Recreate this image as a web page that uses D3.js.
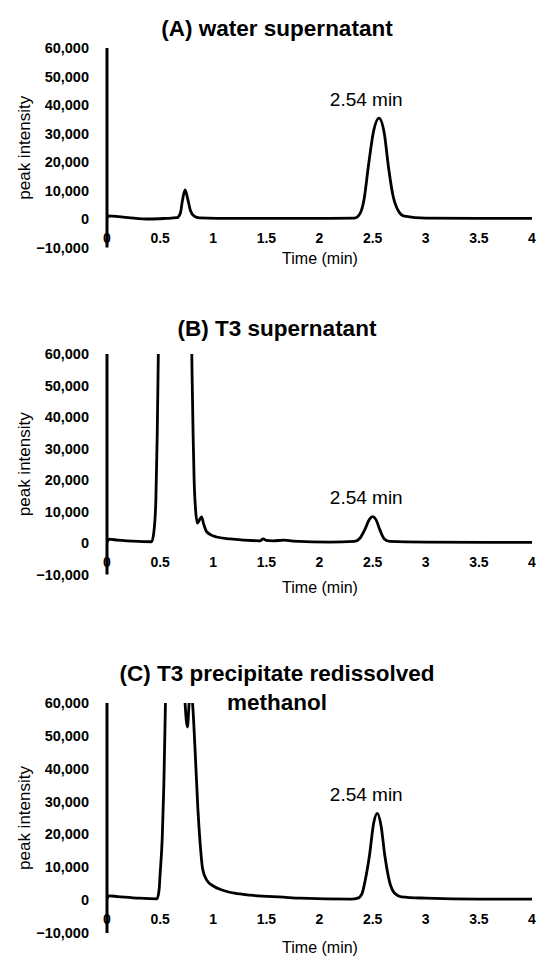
<!DOCTYPE html>
<html>
<head>
<meta charset="utf-8">
<script src="https://cdn.jsdelivr.net/npm/d3@7"></script>
<style>
  body { margin: 0; background: #fff; }
  text { font-family: "Liberation Sans", Arial, sans-serif; fill: #000; }
</style>
</head>
<body>
<svg id="chart"></svg>
<script>
const width = 550;
const height = 967;

// data: [time (min), peak intensity]
const panelTitles = [
  ["(A) water supernatant"],
  ["(B) T3 supernatant"],
  ["(C) T3 precipitate redissolved", "methanol"],
];
const peakLabel = "2.54 min";
const xTicks = [0, 0.5, 1, 1.5, 2, 2.5, 3, 3.5, 4];
const yTicks = [-10000, 0, 10000, 20000, 30000, 40000, 50000, 60000];

const waterSupernatant = [
  [0, 300], [0.01, 1100], [0.05, 1000], [0.2, 500], [0.4, 0], [0.55, 200],
  [0.66, 450], [0.69, 2000], [0.71, 6500], [0.735, 10200], [0.76, 7000],
  [0.785, 3000], [0.82, 1000], [0.87, 400], [1.2, 200], [2.0, 200], [2.33, 300],
  [2.38, 1800], [2.42, 7000], [2.46, 18500], [2.51, 31000], [2.56, 35400],
  [2.61, 30000], [2.65, 18000], [2.69, 8500], [2.74, 3000], [2.8, 1000],
  [3.0, 300], [3.5, 200], [4, 200],
];

const t3Supernatant = [
  [0, 300], [0.02, 1200], [0.1, 900], [0.3, 500], [0.42, 400], [0.44, 3200],
  [0.46, 13600], [0.473, 35000], [0.483, 60000], [0.5, 95000], [0.6, 150000],
  [0.72, 150000], [0.79, 80000], [0.8, 55000], [0.81, 35000], [0.82, 20000],
  [0.835, 10000], [0.85, 6300], [0.865, 7000], [0.89, 8300], [0.91, 6000],
  [0.94, 3500], [1.03, 1900], [1.16, 1300], [1.44, 700], [1.47, 1300],
  [1.5, 800], [1.56, 700], [1.67, 900], [1.75, 600], [2.1, 300], [2.33, 500],
  [2.38, 1500], [2.43, 4500], [2.47, 7500], [2.5, 8350], [2.53, 7500],
  [2.57, 4000], [2.61, 1300], [2.66, 500], [3.0, 300], [4, 200],
];

const t3Precipitate = [
  [0, 500], [0.02, 1300], [0.1, 1100], [0.3, 600], [0.47, 400], [0.49, 3000],
  [0.5, 8000], [0.52, 19000], [0.535, 35000], [0.55, 60000], [0.58, 110000],
  [0.65, 140000], [0.7, 90000], [0.733, 61000], [0.757, 52700], [0.775, 61000],
  [0.79, 64000], [0.805, 60000], [0.83, 45000], [0.855, 28000], [0.875, 18000],
  [0.9, 9500], [0.94, 6000], [1.0, 4300], [1.09, 3000], [1.2, 2100],
  [1.35, 1500], [1.66, 900], [1.82, 600], [2.3, 300], [2.36, 600], [2.4, 2000],
  [2.43, 6000], [2.47, 13500], [2.51, 23500], [2.544, 26400], [2.58, 22500],
  [2.615, 13500], [2.66, 5500], [2.71, 2000], [2.77, 1000], [3.0, 600],
  [3.5, 300], [4, 300],
];

const seriesList = [waterSupernatant, t3Supernatant, t3Precipitate];

// panel placement
const panels = [
  {yTop: 48, yBottom: 247.5, titleY: 28, xTitleY: 258},
  {yTop: 354, yBottom: 574.5, titleY: 328, xTitleY: 587},
  {yTop: 703, yBottom: 933, titleY: 673, xTitleY: 947},
];

const left = 107;
const right = 532;

const svg = d3.select("#chart").attr("width", width).attr("height", height);

const x = d3.scaleLinear().domain([0, 4]).range([left, right]);

panels.forEach((p, i) => {
  const g = svg.append("g");
  const y = d3.scaleLinear().domain([-10000, 60000]).range([p.yBottom, p.yTop]);
  const data = seriesList[i];

  // title
  panelTitles[i].forEach((t, k) => {
    g.append("text")
      .attr("x", 277)
      .attr("y", p.titleY + k * 29)
      .attr("text-anchor", "middle")
      .attr("dominant-baseline", "central")
      .attr("font-size", "22.5px")
      .attr("font-weight", "bold")
      .text(t);
  });

  // y tick labels
  g.selectAll(".ytick")
    .data(yTicks)
    .enter()
    .append("text")
    .attr("x", 89)
    .attr("y", (d) => y(d))
    .attr("text-anchor", "end")
    .attr("dominant-baseline", "central")
    .attr("font-size", "14.5px")
    .attr("font-weight", "bold")
    .text((d) => d3.format(",")(d).replace("-", "\u2212"));

  g.append("text")
    .attr("transform", `translate(24,${(p.yTop + p.yBottom) / 2}) rotate(-90)`)
    .attr("text-anchor", "middle")
    .attr("dominant-baseline", "central")
    .attr("font-size", "17px")
    .text("peak intensity");

  // clip
  g.append("clipPath")
    .attr("id", "clip" + i)
    .append("rect")
    .attr("x", left)
    .attr("y", p.yTop)
    .attr("width", right - left + 3)
    .attr("height", p.yBottom - p.yTop);

  const line = d3
    .line()
    .x((d) => x(d[0]))
    .y((d) => y(d[1]))
    .curve(d3.curveMonotoneX);

  g.append("path")
    .datum(data)
    .attr("clip-path", `url(#clip${i})`)
    .attr("fill", "none")
    .attr("stroke", "#000")
    .attr("stroke-width", 2.8)
    .attr("stroke-linejoin", "round")
    .attr("d", line);

  // y axis line
  g.append("line")
    .attr("x1", x(0))
    .attr("x2", x(0))
    .attr("y1", y(60000))
    .attr("y2", y(-10000))
    .attr("stroke", "#000")
    .attr("stroke-width", 3);

  // x tick labels
  g.selectAll(".xtick")
    .data(xTicks)
    .enter()
    .append("text")
    .attr("x", (d) => x(d))
    .attr("y", y(0) + 19)
    .attr("text-anchor", "middle")
    .attr("dominant-baseline", "central")
    .attr("font-size", "14px")
    .attr("font-weight", "bold")
    .text((d) => d);

  g.append("text")
    .attr("x", 320)
    .attr("y", p.xTitleY)
    .attr("text-anchor", "middle")
    .attr("dominant-baseline", "central")
    .attr("font-size", "16px")
    .text("Time (min)");

  // peak annotation
  const peak = d3.greatest(data.filter((d) => d[0] > 2), (d) => d[1]);
  g.append("text")
    .attr("x", x(2.44))
    .attr("y", y(peak[1]) - 19)
    .attr("text-anchor", "middle")
    .attr("dominant-baseline", "central")
    .attr("font-size", "19px")
    .text(peakLabel);
});
</script>
</body>
</html>
